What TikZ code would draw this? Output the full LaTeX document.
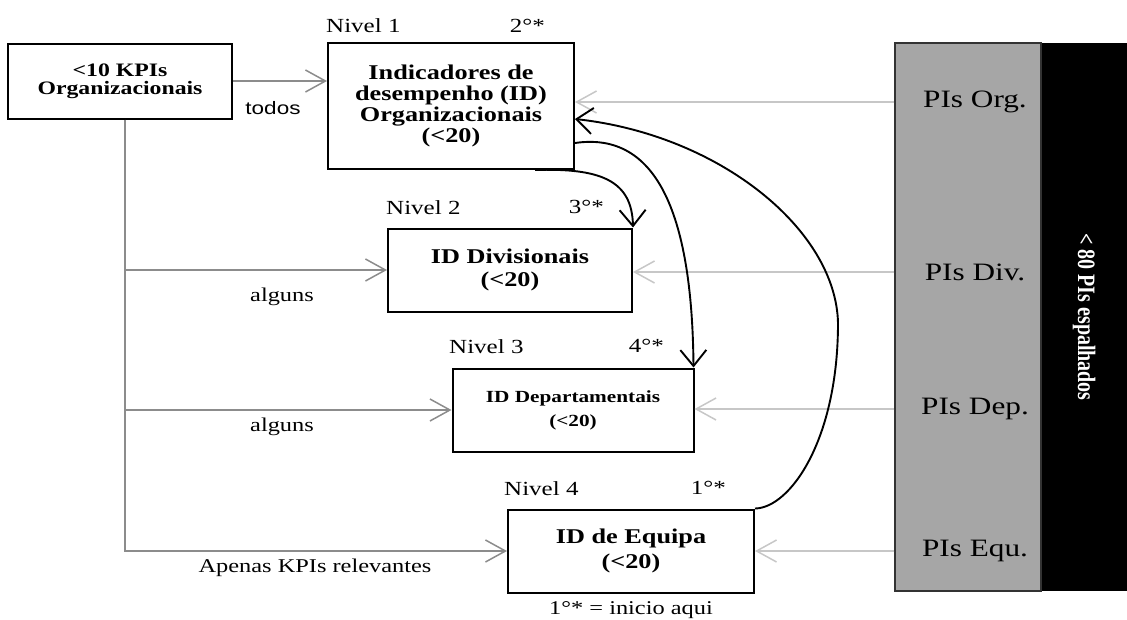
\documentclass[tikz,border=0pt]{standalone}
\usepackage{fontspec}
\setmainfont{Liberation Serif}[FakeStretch=1.25]
\setsansfont{Liberation Sans}[FakeStretch=1.25]
\newfontfamily\sidefont{Liberation Serif}
\usetikzlibrary{arrows.meta}

\tikzset{
  idbox/.style={draw, line width=2pt, align=center, inner sep=0pt,
    font=\bfseries\fontsize{21}{21}\selectfont,
    minimum width=246pt, minimum height=83pt},
  lvl/.style={inner sep=0pt, font=\fontsize{20}{20}\selectfont},
  note/.style={inner sep=0pt, font=\fontsize{19.5}{19.5}\selectfont},
  pis/.style={inner sep=0pt, font=\fontsize{25}{25}\selectfont},
  garrow/.style={draw=black!45, line width=1.5pt,
    -{Straight Barb[length=20pt,width=22pt]}},
  parrow/.style={draw=black!22, line width=1.5pt,
    -{Straight Barb[length=20pt,width=22pt]}},
  barrow/.style={draw=black, line width=1.9pt,
    -{Straight Barb[length=16pt,width=26pt]}}
}

\begin{document}
\begin{tikzpicture}[x=1pt,y=-1pt]
\useasboundingbox (0,0) rectangle (1127,619);

% painel da direita
\node[fill=black, inner sep=0pt, minimum width=86pt, minimum height=548pt] (blk) at (1084,317) {};
\node[draw=black!80, line width=1.5pt, fill=black!35, inner sep=0pt,
      minimum width=146pt, minimum height=548pt] (pnl) at (968,317) {};
\node[rotate=-90, text=white, inner sep=0pt, font=\sidefont\bfseries\fontsize{20}{20}\selectfont]
      (tot) at (blk) {\scalebox{1}[1.25]{< 80 PIs espalhados}};

\node[pis] (pio) at (975,102) {PIs Org.};
\node[pis] (pid) at (975,272) {PIs Div.};
\node[pis] (pip) at (975,409) {PIs Dep.};
\node[pis] (pie) at (975,551) {PIs Equ.};

% caixas
\node[idbox, minimum width=224pt, minimum height=75pt,
      font=\bfseries\fontsize{19}{18}\selectfont] (kpi) at (120,81) {<10 KPIs\\Organizacionais};
\node[idbox, minimum height=126pt] (org) at (451,106) {Indicadores de\\desempenho (ID)\\Organizacionais\\(<20)};
\node[idbox, minimum width=244pt, font=\bfseries\fontsize{21}{23}\selectfont] (div) at (510,270) {ID Divisionais\\(<20)};
\node[idbox, minimum width=241pt, font=\bfseries\fontsize{17}{24}\selectfont] (dep) at (573,410) {ID Departamentais\\(<20)};
\node[idbox, font=\bfseries\fontsize{21}{25}\selectfont] (equ) at (631,551) {ID de Equipa\\(<20)};

% niveis
\node[lvl, anchor=west] (lv1) at (326,26) {Nivel 1};
\node[lvl, anchor=east] (nr2) at (545,26) {2°*};
\node[lvl, anchor=west] (lv2) at (386,208) {Nivel 2};
\node[lvl, anchor=east] (nr3) at (604,207) {3°*};
\node[lvl, anchor=west] (lv3) at (449,347) {Nivel 3};
\node[lvl, anchor=east] (nr4) at (664,346) {4°*};
\node[lvl, anchor=west] (lv4) at (504,489) {Nivel 4};
\node[lvl, anchor=east] (nr1) at (726,488) {1°*};

% ligacoes a partir dos KPIs
\coordinate (trunk) at ([xshift=5pt]kpi.south);
\draw[garrow] (kpi.east) -- (kpi.east -| org.west);
\draw[garrow] (trunk) |- (equ.west);
\draw[garrow] (trunk |- div.west) -- (div.west);
\draw[garrow] (trunk |- dep.west) -- (dep.west);

\node[inner sep=0pt, font=\sffamily\fontsize{18}{18}\selectfont] (tds) at (273,108) {todos};
\node[note] (al1) at (282,297) {alguns};
\node[note] (al2) at (282,427) {alguns};
\node[note] (apn) at (315,568) {Apenas KPIs relevantes};
\node[note] (ini) at (631,610) {1°* = inicio aqui};

% PIs para cada nivel
\draw[parrow] (pio -| pnl.west) -- (pio -| org.east);
\draw[parrow] (pid -| pnl.west) -- (pid -| div.east);
\draw[parrow] (pip -| pnl.west) -- (pip -| dep.east);
\draw[parrow] (pie -| pnl.west) -- (pie -| equ.east);

% ordem
\draw[barrow] ([xshift=-40pt]org.south east) .. controls (600,168) and (632,180) .. (div.north east);
\draw[barrow] ([yshift=-37pt]org.east) .. controls (650,132) and (692,200) .. ([xshift=-1pt]dep.north east);
\draw[barrow] (equ.north east) .. controls (790,508) and (838,440) .. (838,323)
   .. controls (836,230) and (720,135) .. ([yshift=-13pt]org.east);

\end{tikzpicture}
\end{document}
